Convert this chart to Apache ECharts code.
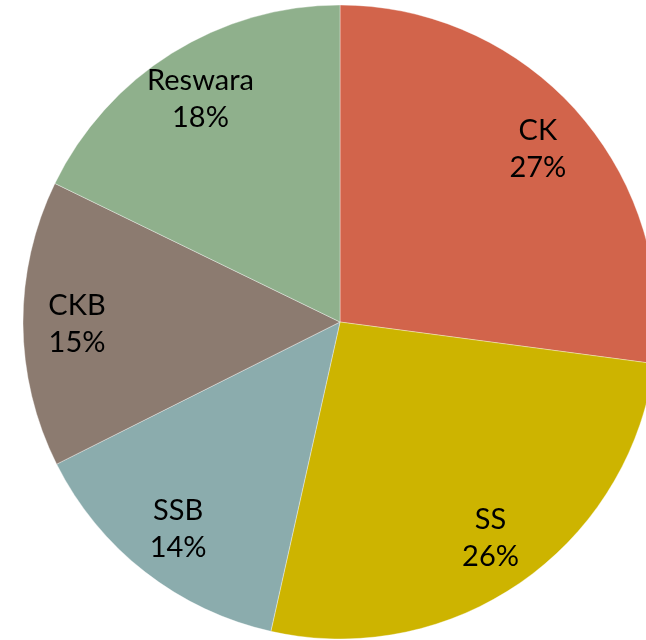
<!DOCTYPE html>
<html>
<head>
<meta charset="utf-8">
<script src="https://cdn.jsdelivr.net/npm/echarts@6/dist/echarts.min.js"></script>
<style>
html,body{margin:0;padding:0;background:#fff;}
#chart{width:646px;height:640px;}
</style>
</head>
<body>
<div id="chart"></div>
<script>
var categories = ['CK', 'SS', 'SSB', 'CKB', 'Reswara'];
var values = [27.1, 26.4, 14.1, 14.6, 17.8];
var colors = ['#D2644B', '#CDB400', '#8BACAD', '#8C7B70', '#8FB08C'];

var mainData = categories.map(function (c, i) {
  return { name: c, value: values[i], itemStyle: { color: colors[i] } };
});
var labelData = categories.map(function (c, i) {
  return { name: c, value: values[i] };
});

var chart = echarts.init(document.getElementById('chart'), null, { renderer: 'canvas' });
chart.setOption({
  animation: false,
  backgroundColor: '#ffffff',
  series: [
    {
      type: 'pie',
      center: [340, 322],
      radius: [0, 317],
      startAngle: 90,
      clockwise: true,
      silent: true,
      label: { show: false },
      labelLine: { show: false },
      itemStyle: { borderColor: 'rgba(255,255,255,0.6)', borderWidth: 0.6 },
      data: mainData
    },
    {
      type: 'pie',
      center: [340, 322],
      radius: [203, 317],
      startAngle: 90,
      clockwise: true,
      silent: true,
      itemStyle: { color: 'rgba(0,0,0,0)' },
      label: {
        show: true,
        position: 'inner',
        formatter: function (p) { return p.name + '\n' + Math.round(p.percent) + '%'; },
        fontFamily: 'Lato',
        fontSize: 29,
        lineHeight: 37,
        color: '#000000',
        align: 'center'
      },
      labelLine: { show: false },
      data: labelData
    }
  ]
});
</script>
</body>
</html>
